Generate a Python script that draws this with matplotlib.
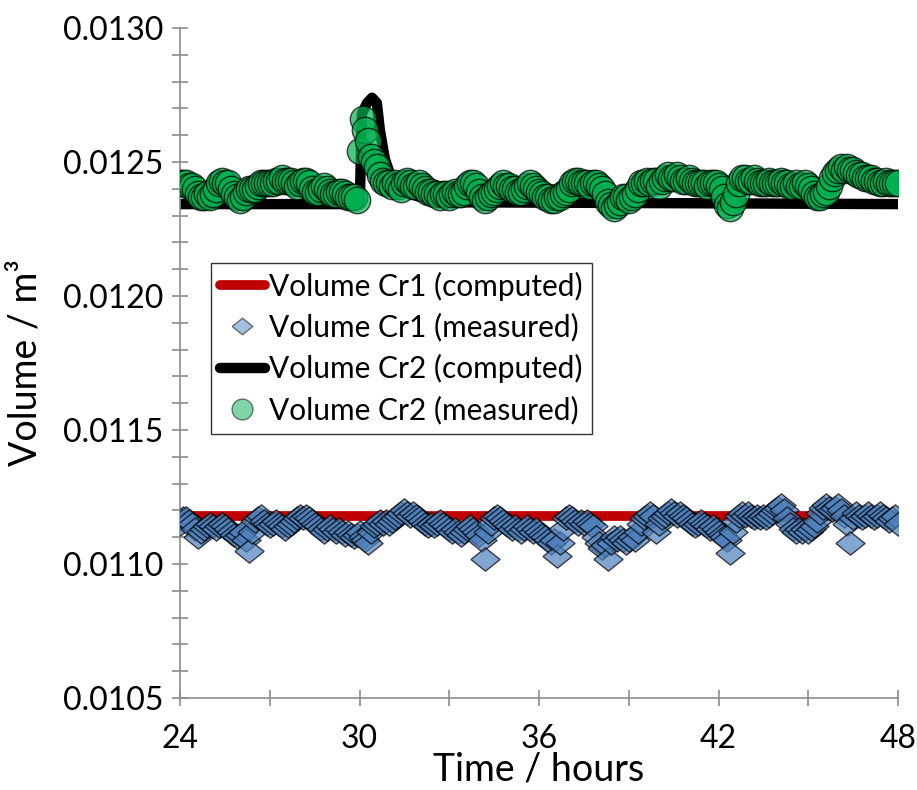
import numpy as np
import matplotlib
matplotlib.use("Agg")
import matplotlib.pyplot as plt
from matplotlib.ticker import MultipleLocator
from matplotlib.lines import Line2D

plt.rcParams['font.family'] = ['Lato', 'DejaVu Sans']

# time axis of the measured samples (hours), one sample every 0.1 h
t_meas = np.round(np.arange(24.0, 48.001, 0.1), 1)

# Volume Cr1 (measured), m^3
cr1_meas = [
    0.01115, 0.01117, 0.01117, 0.01116, 0.01115, 0.01113, 0.01110, 0.01112, 0.01113, 0.01114,
    0.01115, 0.01114, 0.01113, 0.01114, 0.01115, 0.01114, 0.01113, 0.01112, 0.01111, 0.01110,
    0.01111, 0.01112, 0.01109, 0.01105, 0.01112, 0.01116, 0.01117, 0.01118, 0.01116, 0.01115,
    0.01114, 0.01115, 0.01116, 0.01115, 0.01114, 0.01113, 0.01114, 0.01115, 0.01116, 0.01117,
    0.01118, 0.01117, 0.01118, 0.01117, 0.01116, 0.01115, 0.01114, 0.01113, 0.01112, 0.01113,
    0.01114, 0.01113, 0.01112, 0.01113, 0.01112, 0.01111, 0.01112, 0.01111, 0.01110, 0.01111,
    0.01112, 0.01110, 0.01109, 0.01108, 0.01112, 0.01114, 0.01115, 0.01116, 0.01115, 0.01116,
    0.01115, 0.01116, 0.01117, 0.01118, 0.01119, 0.01120, 0.01119, 0.01118, 0.01119, 0.01118,
    0.01117, 0.01116, 0.01115, 0.01114, 0.01115, 0.01114, 0.01115, 0.01116, 0.01115, 0.01114,
    0.01113, 0.01112, 0.01113, 0.01112, 0.01111, 0.01112, 0.01113, 0.01114, 0.01113, 0.01112,
    0.01111, 0.01109, 0.01102, 0.01112, 0.01115, 0.01117, 0.01118, 0.01117, 0.01116, 0.01115,
    0.01114, 0.01113, 0.01114, 0.01113, 0.01112, 0.01113, 0.01114, 0.01113, 0.01112, 0.01113,
    0.01112, 0.01111, 0.01110, 0.01109, 0.01108, 0.01109, 0.01103, 0.01108, 0.01113, 0.01117,
    0.01118, 0.01117, 0.01116, 0.01115, 0.01116, 0.01115, 0.01116, 0.01115, 0.01114, 0.01110,
    0.01108, 0.01106, 0.01107, 0.01102, 0.01108, 0.01110, 0.01109, 0.01110, 0.01109, 0.01108,
    0.01109, 0.01110, 0.01109, 0.01112, 0.01115, 0.01117, 0.01118, 0.01119, 0.01118, 0.01112,
    0.01115, 0.01117, 0.01118, 0.01119, 0.01120, 0.01119, 0.01118, 0.01119, 0.01118, 0.01117,
    0.01116, 0.01115, 0.01114, 0.01115, 0.01116, 0.01115, 0.01114, 0.01113, 0.01114, 0.01113,
    0.01112, 0.01111, 0.01110, 0.01109, 0.01104, 0.01112, 0.01116, 0.01118, 0.01119, 0.01118,
    0.01119, 0.01118, 0.01117, 0.01118, 0.01117, 0.01118, 0.01117, 0.01118, 0.01119, 0.01120,
    0.01121, 0.01122, 0.01120, 0.01117, 0.01115, 0.01113, 0.01112, 0.01113, 0.01112, 0.01113,
    0.01112, 0.01113, 0.01114, 0.01116, 0.01119, 0.01121, 0.01122, 0.01121, 0.01120, 0.01121,
    0.01122, 0.01120, 0.01118, 0.01115, 0.01108, 0.01117, 0.01119, 0.01118, 0.01117, 0.01118,
    0.01119, 0.01118, 0.01117, 0.01118, 0.01119, 0.01118, 0.01117, 0.01116, 0.01117, 0.01118,
    0.01115,
]

# Volume Cr2 (measured), m^3
cr2_meas = [
    0.01242, 0.01242, 0.01242, 0.01241, 0.01241, 0.01240, 0.01238, 0.01237, 0.01237, 0.01238,
    0.01237, 0.01238, 0.01240, 0.01242, 0.01243, 0.01242, 0.01242, 0.01240, 0.01238, 0.01237,
    0.01236, 0.01237, 0.01239, 0.01240, 0.01240, 0.01240, 0.01241, 0.01242, 0.01242, 0.01242,
    0.01242, 0.01242, 0.01243, 0.01243, 0.01244, 0.01243, 0.01243, 0.01243, 0.01242, 0.01241,
    0.01242, 0.01243, 0.01243, 0.01242, 0.01240, 0.01239, 0.01239, 0.01240, 0.01241, 0.01240,
    0.01239, 0.01238, 0.01238, 0.01239, 0.01239, 0.01238, 0.01237, 0.01237, 0.01237, 0.01236,
    0.01254, 0.01266, 0.01262, 0.01258, 0.01252, 0.01250, 0.01248, 0.01245, 0.01243, 0.01242,
    0.01242, 0.01241, 0.01242, 0.01241, 0.01240, 0.01242, 0.01243, 0.01242, 0.01241, 0.01241,
    0.01242, 0.01241, 0.01240, 0.01239, 0.01239, 0.01238, 0.01238, 0.01237, 0.01238, 0.01238,
    0.01237, 0.01238, 0.01239, 0.01238, 0.01238, 0.01239, 0.01241, 0.01242, 0.01242, 0.01241,
    0.01239, 0.01237, 0.01236, 0.01237, 0.01238, 0.01239, 0.01240, 0.01241, 0.01242, 0.01241,
    0.01241, 0.01240, 0.01240, 0.01239, 0.01239, 0.01240, 0.01241, 0.01242, 0.01241, 0.01240,
    0.01239, 0.01238, 0.01237, 0.01237, 0.01236, 0.01236, 0.01237, 0.01237, 0.01238, 0.01239,
    0.01240, 0.01242, 0.01243, 0.01243, 0.01242, 0.01242, 0.01242, 0.01241, 0.01242, 0.01242,
    0.01241, 0.01240, 0.01238, 0.01235, 0.01234, 0.01233, 0.01234, 0.01235, 0.01237, 0.01237,
    0.01236, 0.01237, 0.01238, 0.01240, 0.01242, 0.01242, 0.01243, 0.01242, 0.01243, 0.01243,
    0.01241, 0.01243, 0.01244, 0.01245, 0.01244, 0.01244, 0.01245, 0.01244, 0.01243, 0.01243,
    0.01244, 0.01243, 0.01242, 0.01242, 0.01242, 0.01242, 0.01241, 0.01242, 0.01242, 0.01242,
    0.01241, 0.01240, 0.01237, 0.01234, 0.01233, 0.01235, 0.01238, 0.01242, 0.01244, 0.01244,
    0.01243, 0.01243, 0.01244, 0.01243, 0.01242, 0.01242, 0.01242, 0.01243, 0.01242, 0.01242,
    0.01242, 0.01243, 0.01242, 0.01242, 0.01241, 0.01241, 0.01242, 0.01241, 0.01241, 0.01242,
    0.01241, 0.01240, 0.01238, 0.01237, 0.01237, 0.01238, 0.01239, 0.01241, 0.01244, 0.01246,
    0.01247, 0.01248, 0.01247, 0.01248, 0.01247, 0.01247, 0.01246, 0.01245, 0.01245, 0.01244,
    0.01244, 0.01244, 0.01243, 0.01243, 0.01242, 0.01242, 0.01243, 0.01242, 0.01242, 0.01242,
    0.01242,
]

# computed volumes
t_cr1_comp = [24.0, 48.0]
cr1_comp = [0.011178, 0.011178]

t_cr2_comp = [24.0, 29.98, 30.02, 30.08, 30.25, 30.42, 30.58, 30.68, 30.85, 31.1,
              31.5, 32.0, 32.7, 48.0]
cr2_comp = [0.012343, 0.012343, 0.01240, 0.01268, 0.01272, 0.01274, 0.01272, 0.01262,
            0.01251, 0.01243, 0.01239, 0.01237, 0.01235, 0.012343]

labels = ["Volume Cr1 (computed)", "Volume Cr1 (measured)",
          "Volume Cr2 (computed)", "Volume Cr2 (measured)"]

# slightly flattened diamond, like the spreadsheet marker
diamond = [(-1, 0), (0, 0.8), (1, 0), (0, -0.8), (-1, 0)]

fig = plt.figure(figsize=(9.17, 7.9), dpi=100)
ax = fig.add_axes([0.1963, 0.1165, 0.783, 0.848])

l1, = ax.plot(t_cr1_comp, cr1_comp, color='#c00000', lw=7, solid_capstyle='round',
              zorder=2)
ax.plot(t_meas, cr1_meas, ls='none', marker=diamond, ms=21, mfc='#4f81bd',
        mec='black', mew=1.0, alpha=0.7, zorder=3)
l3, = ax.plot(t_cr2_comp, cr2_comp, color='black', lw=7.5, solid_capstyle='round',
              solid_joinstyle='round', zorder=2)
ax.plot(t_meas, cr2_meas, ls='none', marker='o', ms=19, mfc='#00b050',
        mec='black', mew=1.0, alpha=0.7, zorder=3)

ax.set_xlim(24, 48)
ax.set_ylim(0.0105, 0.0130)
ax.xaxis.set_major_locator(MultipleLocator(6))
ax.xaxis.set_minor_locator(MultipleLocator(3))
ax.yaxis.set_major_locator(MultipleLocator(0.0005))
ax.yaxis.set_minor_locator(MultipleLocator(0.0001))
ax.yaxis.set_major_formatter(plt.FormatStrFormatter('%.4f'))

for side in ['top', 'right']:
    ax.spines[side].set_visible(False)
for side in ['left', 'bottom']:
    ax.spines[side].set_color('#8c8c8c')
    ax.spines[side].set_linewidth(1.2)

ax.tick_params(which='both', direction='inout', color='#8c8c8c', width=1.2,
               labelsize=23)
ax.tick_params(which='major', length=12)
ax.tick_params(which='minor', length=11)
ax.tick_params(axis='x', pad=13)
ax.tick_params(axis='y', pad=6)

ax.set_xlabel("Time / hours", fontsize=27, labelpad=-2)
ax.set_ylabel("Volume / m³", fontsize=27, labelpad=14)

# legend markers are lighter than the overlapping plot markers
h2 = Line2D([], [], ls='none', marker=diamond, ms=15, mfc='#4f81bd',
            mec='black', mew=1.0, alpha=0.5)
h4 = Line2D([], [], ls='none', marker='o', ms=15, mfc='#00b050',
            mec='black', mew=1.0, alpha=0.5)
leg = ax.legend([l1, h2, l3, h4], labels, loc='upper left',
                bbox_to_anchor=(0.043, 0.65), fontsize=21.5,
                frameon=True, fancybox=False, edgecolor='black',
                handlelength=1.5, handletextpad=0.15, labelspacing=0.42,
                borderpad=0.3, borderaxespad=0)
leg.get_frame().set_linewidth(1.0)

fig.savefig("out.png", dpi=100)
